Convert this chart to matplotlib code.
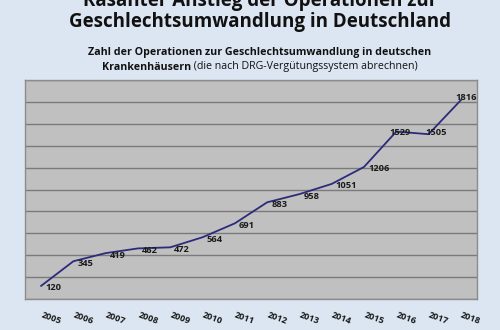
import matplotlib
matplotlib.use('Agg')
import matplotlib.pyplot as plt

# Operationen zur Geschlechtsumwandlung (DRG-Statistik)
jahre = [2005, 2006, 2007, 2008, 2009, 2010, 2011, 2012, 2013, 2014, 2015, 2016, 2017, 2018]
operationen = [120, 345, 419, 462, 472, 564, 691, 883, 958, 1051, 1206, 1529, 1505, 1816]

# Versatz der Beschriftungen in Pixeln (rechts vom Punkt, letzte drei verschoben)
versatz = [(4, -2)] * 11 + [(-7, -1), (-3, 2), (-5, 3)]

BG = '#dce6f2'
FONT = 'Open Sans'
MITTE = 0.52

fig = plt.figure(figsize=(5, 3.3), dpi=100, facecolor=BG)
ax = fig.add_axes([25 / 500, 1 - 299 / 330, 452 / 500, 219 / 330])
ax.set_facecolor('#c0c0c0')

x = list(range(len(jahre)))
ax.plot(x, operationen, color='#2b2b7c', lw=1.3, zorder=3)

for i, (wert, (dx, dy)) in enumerate(zip(operationen, versatz)):
    ax.annotate(str(wert), (x[i], wert), xytext=(dx, dy), textcoords='offset pixels',
                ha='left', va='center', fontsize=6.7, fontweight='bold',
                family=FONT, color='#1a1a1a', zorder=4)

ax.set_xlim(-0.5, len(jahre) - 0.5)
ax.set_ylim(0, 2000)
ax.set_yticks(range(0, 2001, 200))
ax.set_yticklabels([])
ax.tick_params(axis='y', length=0)
ax.grid(axis='y', color='#7a7a7a', lw=1)
ax.set_axisbelow(True)

ax.set_xticks(x)
ax.set_xticklabels(jahre, rotation=-20, ha='left', va='center', rotation_mode='anchor',
                   fontsize=6.5, fontweight='bold', family=FONT, color='#1a1a1a')
ax.tick_params(axis='x', length=0, pad=11)

for s in ax.spines.values():
    s.set_color('#8c8c8c')
    s.set_linewidth(1)

# Titel (obere Zeile oben angeschnitten)
fig.text(MITTE, 1 - 1 / 330, 'Rasanter Anstieg der Operationen zur', ha='center', va='center',
         fontsize=13.5, fontweight='bold', family=FONT, color='#111111')
fig.text(MITTE, 1 - 22 / 330, 'Geschlechtsumwandlung in Deutschland', ha='center', va='center',
         fontsize=13.5, fontweight='bold', family=FONT, color='#111111')

fig.text(MITTE, 1 - 52 / 330, 'Zahl der Operationen zur Geschlechtsumwandlung in deutschen',
         ha='center', va='center', fontsize=7.7, fontweight='bold', family=FONT, color='#111111')

# zweite Untertitelzeile: fett + normal, gemeinsam zentriert
t1 = fig.text(0, 1 - 67 / 330, 'Krankenhäusern', ha='left', va='center', fontsize=7.7,
              fontweight='bold', family=FONT, color='#111111')
t2 = fig.text(0, 1 - 67 / 330, ' (die nach DRG-Vergütungssystem abrechnen)', ha='left', va='center',
              fontsize=7.7, family=FONT, color='#111111')
r = fig.canvas.get_renderer()
w1 = t1.get_window_extent(r).width / 500
w2 = t2.get_window_extent(r).width / 500
start = MITTE - (w1 + w2) / 2
t1.set_x(start)
t2.set_x(start + w1)

fig.savefig('out.png', dpi=100, facecolor=BG)
